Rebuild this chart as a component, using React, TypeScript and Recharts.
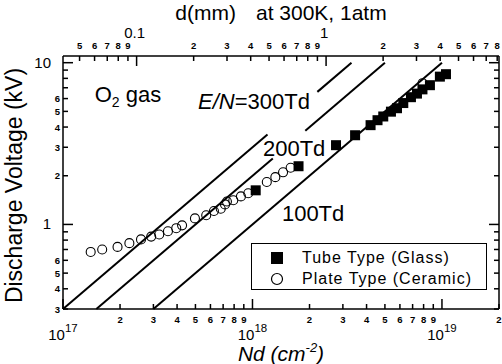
import React from "react";
import {
  ScatterChart,
  Scatter,
  XAxis,
  YAxis,
  ReferenceLine,
  ReferenceDot,
} from "recharts";

// ------------------------------------------------------------
// Discharge voltage vs Nd (O2 gas), log-log with d(mm) top axis
// ------------------------------------------------------------

const FONT = "'Liberation Sans', Arial, Helvetica, sans-serif";
const ND_PER_MM = 2.446e18; // N at 300 K, 1 atm (cm^-3) x 0.1 cm

// Plate type (ceramic) - open circles
const plateNd = [
  1.4e17, 1.61e17, 1.94e17, 2.24e17, 2.58e17, 2.92e17, 3.22e17, 3.58e17,
  3.96e17, 4.25e17, 4.97e17, 5.7e17, 6.26e17, 6.8e17, 7.16e17, 7.33e17,
  7.92e17, 8.69e17, 9.5e17, 1.19e18, 1.32e18, 1.45e18, 1.59e18, 7.9e18,
];
const plateV = [
  0.676, 0.7, 0.726, 0.766, 0.808, 0.841, 0.866, 0.908, 0.948, 0.987, 1.09,
  1.14, 1.21, 1.25, 1.33, 1.385, 1.41, 1.49, 1.56, 1.83, 1.96, 2.1, 2.24, 7.47,
];

// Tube type (glass) - filled squares
const tubeNd = [
  1.04e18, 1.75e18, 2.76e18, 3.48e18, 4.2e18, 4.57e18, 4.9e18, 5.38e18,
  5.79e18, 6.25e18, 6.86e18, 7.38e18, 7.89e18, 8.64e18, 9.75e18, 1.05e19,
];
const tubeV = [
  1.625, 2.29, 3.09, 3.56, 4.11, 4.41, 4.65, 4.98, 5.23, 5.63, 6.12, 6.44,
  6.84, 7.26, 8.2, 8.49,
];

// E/N = const lines, drawn as segments (gaps where the labels sit)
const lineSegNd = [
  [1e17, 1.2e18], // 300Td lower
  [2.2e18, 3.33e18], // 300Td upper
  [1.5e17, 1.28e18], // 200Td lower
  [1.9e18, 5e18], // 200Td upper
  [3e17, 1e19], // 100Td
];
const lineSegV = [
  [0.3, 3.6],
  [6.6, 10],
  [0.3, 2.56],
  [3.8, 10],
  [0.3, 10],
];

const ndTicks = [
  1e17, 2e17, 3e17, 4e17, 5e17, 6e17, 7e17, 8e17, 9e17,
  1e18, 2e18, 3e18, 4e18, 5e18, 6e18, 7e18, 8e18, 9e18,
  1e19, 2e19,
];
const vTicks = [0.3, 0.4, 0.5, 0.6, 0.7, 0.8, 0.9, 1, 2, 3, 4, 5, 6, 7, 8, 9, 10];
const dTicksMm = [
  0.05, 0.06, 0.07, 0.08, 0.09, 0.1, 0.2, 0.3, 0.4, 0.5, 0.6, 0.7, 0.8, 0.9,
  1, 2, 3, 4, 5, 6, 7, 8,
];

const plateData = plateNd.map((nd, i) => ({ nd, v: plateV[i] }));
const tubeData = tubeNd.map((nd, i) => ({ nd, v: tubeV[i] }));

function mantissa(v: number) {
  const e = Math.floor(Math.log10(v) + 1e-6);
  return { m: Math.round(v / Math.pow(10, e)), e };
}

const lw = 1.5;

function BottomTick({ x, y, payload }: any) {
  const { m, e } = mantissa(payload.value);
  const major = m === 1;
  return (
    <g>
      <line x1={x} x2={x} y1={y} y2={y - (major ? 10 : 5)} stroke="#000" strokeWidth={lw} />
      {major ? (
        <text x={x} y={y + 31} textAnchor="middle" fontFamily={FONT} fontSize={15}>
          10
          <tspan dy={-8} fontSize={11.5}>
            {e}
          </tspan>
        </text>
      ) : (
        <text x={x} y={y + 14} textAnchor="middle" fontFamily={FONT} fontSize={9.5} fontWeight="bold">
          {m}
        </text>
      )}
    </g>
  );
}

function TopTick({ x, y, payload }: any) {
  const d = payload.value / ND_PER_MM;
  const { m, e } = mantissa(d);
  const major = m === 1;
  const text = e < 0 ? d.toFixed(-e) : String(Math.round(d));
  return (
    <g>
      <line x1={x} x2={x} y1={y} y2={y + (major ? 10 : 5)} stroke="#000" strokeWidth={lw} />
      {major ? (
        <text x={x - 2} y={y - 18} textAnchor="middle" fontFamily={FONT} fontSize={15}>
          {text}
        </text>
      ) : (
        <text x={x} y={y - 7} textAnchor="middle" fontFamily={FONT} fontSize={9.5} fontWeight="bold">
          {m}
        </text>
      )}
    </g>
  );
}

function LeftTick({ x, y, payload }: any) {
  const { m } = mantissa(payload.value);
  const major = m === 1;
  return (
    <g>
      <line x1={x} x2={x + (major ? 10 : 5)} y1={y} y2={y} stroke="#000" strokeWidth={lw} />
      {major ? (
        <text x={x - 12} y={y + 5} textAnchor="end" fontFamily={FONT} fontSize={15}>
          {payload.value}
        </text>
      ) : m <= 6 ? (
        <text x={x - 3} y={y + 3.5} textAnchor="end" fontFamily={FONT} fontSize={9.5} fontWeight="bold">
          {m}
        </text>
      ) : null}
    </g>
  );
}

function RightTick({ x, y, payload }: any) {
  const { m } = mantissa(payload.value);
  return <line x1={x} x2={x - (m === 1 ? 10 : 5)} y1={y} y2={y} stroke="#000" strokeWidth={lw} />;
}

function Square({ cx, cy }: any) {
  return <rect x={cx - 5} y={cy - 5} width={10} height={10} fill="#000" />;
}

function Ring({ cx, cy }: any) {
  return <circle cx={cx} cy={cy} r={4.5} fill="none" stroke="#000" strokeWidth={1.1} />;
}

function Nothing() {
  return <g />;
}

function textAt(content: React.ReactNode) {
  return ({ cx, cy }: any) => (
    <text x={cx} y={cy + 8} fontFamily={FONT} fontSize={22}>
      {content}
    </text>
  );
}

function YTitle({ viewBox }: any) {
  const cy = viewBox.y + viewBox.height / 2 + 3;
  return (
    <text
      x={22}
      y={cy}
      transform={`rotate(-90 22 ${cy})`}
      textAnchor="middle"
      fontFamily={FONT}
      fontSize={23}
    >
      Discharge Voltage (kV)
    </text>
  );
}

function XTitle({ viewBox }: any) {
  const cx = viewBox.x + viewBox.width / 2;
  return (
    <text x={cx} y={viewBox.y + 52} textAnchor="middle" fontFamily={FONT} fontSize={21} fontStyle="italic">
      Nd (cm
      <tspan dy={-9} fontSize={13}>
        -2
      </tspan>
      <tspan dy={9}>)</tspan>
    </text>
  );
}

function TopTitle({ viewBox }: any) {
  const cx = viewBox.x + viewBox.width / 2;
  return (
    <text x={cx} y={20} textAnchor="middle" fontFamily={FONT} fontSize={21}>
      d(mm)
      <tspan dx={20}>at 300K, 1atm</tspan>
    </text>
  );
}

function LegendBox() {
  const row = { display: "flex", alignItems: "center", height: 21 } as const;
  return (
    <div
      style={{
        position: "absolute",
        left: 251,
        top: 243,
        width: 236,
        height: 47,
        border: "1.5px solid #000",
        background: "#fff",
        fontFamily: FONT,
        fontSize: 16,
        letterSpacing: 1,
        paddingTop: 3,
        boxSizing: "border-box",
      }}
    >
      <div style={row}>
        <svg width={50} height={14}>
          <rect x={19} y={1} width={12} height={12} fill="#000" />
        </svg>
        <span>Tube Type (Glass)</span>
      </div>
      <div style={row}>
        <svg width={50} height={14}>
          <circle cx={25} cy={7} r={5.5} fill="none" stroke="#000" strokeWidth={1.2} />
        </svg>
        <span>Plate Type (Ceramic)</span>
      </div>
    </div>
  );
}

export default function App() {
  const topTicks = dTicksMm.map((d) => d * ND_PER_MM);
  return (
    <div style={{ position: "absolute", left: 0, top: 0, width: 502, height: 364, background: "#fff" }}>
      <ScatterChart width={502} height={364} margin={{ top: 0, right: 0, bottom: 0, left: 0 }}>
        <XAxis
          xAxisId="bottom"
          dataKey="nd"
          type="number"
          scale="log"
          domain={[1e17, 2e19]}
          allowDataOverflow
          ticks={ndTicks}
          interval={0}
          height={55}
          tickSize={0}
          tickMargin={0}
          tickLine={false}
          tick={<BottomTick />}
          axisLine={{ stroke: "#000", strokeWidth: lw }}
          label={<XTitle />}
        />
        <XAxis
          xAxisId="top"
          dataKey="nd"
          orientation="top"
          type="number"
          scale="log"
          domain={[1e17, 2e19]}
          allowDataOverflow
          ticks={topTicks}
          interval={0}
          height={56}
          tickSize={0}
          tickMargin={0}
          tickLine={false}
          tick={<TopTick />}
          axisLine={{ stroke: "#000", strokeWidth: lw }}
          label={<TopTitle />}
        />
        <YAxis
          yAxisId="left"
          dataKey="v"
          type="number"
          scale="log"
          domain={[0.3, 11]}
          allowDataOverflow
          ticks={vTicks}
          interval={0}
          width={63}
          tickSize={0}
          tickMargin={0}
          tickLine={false}
          tick={<LeftTick />}
          axisLine={{ stroke: "#000", strokeWidth: lw }}
          label={<YTitle />}
        />
        <YAxis
          yAxisId="right"
          dataKey="v"
          orientation="right"
          type="number"
          scale="log"
          domain={[0.3, 11]}
          allowDataOverflow
          ticks={vTicks}
          interval={0}
          width={3}
          tickSize={0}
          tickMargin={0}
          tickLine={false}
          tick={<RightTick />}
          axisLine={{ stroke: "#000", strokeWidth: lw }}
        />

        {lineSegNd.map((seg, i) => (
          <ReferenceLine
            key={i}
            xAxisId="bottom"
            yAxisId="left"
            ifOverflow="visible"
            segment={[
              { x: seg[0], y: lineSegV[i][0] },
              { x: seg[1], y: lineSegV[i][1] },
            ]}
            stroke="#000"
            strokeWidth={2}
          />
        ))}

        <ReferenceDot xAxisId="bottom" yAxisId="left" x={1.47e17} y={6.4} r={0}
          shape={textAt(<>O<tspan dy={5} fontSize={14}>2</tspan><tspan dy={-5}> gas</tspan></>)} />
        <ReferenceDot xAxisId="bottom" yAxisId="left" x={5.16e17} y={5.8} r={0}
          shape={textAt(<><tspan fontStyle="italic">E/N</tspan>=300Td</>)} />
        <ReferenceDot xAxisId="bottom" yAxisId="left" x={1.136e18} y={2.98} r={0}
          shape={textAt("200Td")} />
        <ReferenceDot xAxisId="bottom" yAxisId="left" x={1.43e18} y={1.18} r={0}
          shape={textAt("100Td")} />

        {/* invisible copy so the d(mm) axis gets a domain */}
        <Scatter
          data={plateData}
          xAxisId="top"
          yAxisId="right"
          shape={<Nothing />}
          isAnimationActive={false}
        />
        <Scatter
          name="Plate Type (Ceramic)"
          data={plateData}
          xAxisId="bottom"
          yAxisId="left"
          shape={<Ring />}
          isAnimationActive={false}
        />
        <Scatter
          name="Tube Type (Glass)"
          data={tubeData}
          xAxisId="bottom"
          yAxisId="left"
          shape={<Square />}
          isAnimationActive={false}
        />
      </ScatterChart>
      <LegendBox />
    </div>
  );
}
